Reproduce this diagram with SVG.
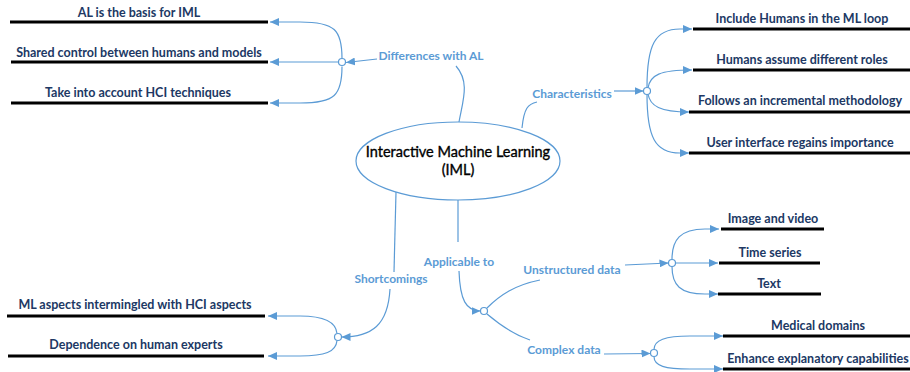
<svg xmlns="http://www.w3.org/2000/svg" width="910" height="372" viewBox="0 0 910 372">
<defs>
<marker id="ah" markerUnits="userSpaceOnUse" markerWidth="10" markerHeight="8" refX="9" refY="4" orient="auto">
<path d="M0,0 L9,4 L0,8 z" fill="#5b9bd5"/>
</marker>
<style>
.c{fill:none;stroke:#5b9bd5;stroke-width:1.2}
.a{marker-end:url(#ah)}
.hub{fill:#fff;stroke:#5b9bd5;stroke-width:1.2}
.bar{stroke:#000;stroke-width:3}
.t{font-family:Lato,"Liberation Sans",sans-serif;font-weight:bold;font-size:12.5px;fill:#203864;text-anchor:middle}
.l{font-family:Lato,"Liberation Sans",sans-serif;font-weight:bold;font-size:12px;fill:#5b9bd5;text-anchor:middle}
.m{font-family:Lato,"Liberation Sans",sans-serif;font-size:14.5px;fill:#000;stroke:#000;stroke-width:0.35;text-anchor:middle}
</style>
</defs>
<rect width="910" height="372" fill="#fff"/>
<g id="connectors">
<path class="c" d="M456,66 C470,82 463,100 459,122"/>
<path class="c a" d="M377,59 L346,62.5"/>
<path class="c a" d="M342,58.5 C342,30 335,22 300,22 L270,22"/>
<path class="c a" d="M338.5,62 L270,62"/>
<path class="c a" d="M342,66.5 C342,95 335,103 300,103 L270,103"/>
<path class="c" d="M522,128 C524,108 528,104 537,102"/>
<path class="c a" d="M614,91 L643.5,91"/>
<path class="c a" d="M647,87.5 C647,45 655,29 680,29 L692,29"/>
<path class="c a" d="M648,88 C650,75 660,70 692,70"/>
<path class="c a" d="M648,94 C650,106 660,112 689,112"/>
<path class="c a" d="M647,94.5 C647,137 655,153 680,153 L689,153"/>
<path class="c" d="M396,192 L394,272"/>
<path class="c a" d="M390,289 C388,325 372,337 341.5,337"/>
<path class="c a" d="M337,333.5 C336,322 325,316 300,316 L268,316"/>
<path class="c a" d="M337,340.5 C336,352 325,356 300,356 L268,356"/>
<path class="c" d="M458,200 L458,242"/>
<path class="c a" d="M459,271 C460,300 466,311 480.5,311"/>
<path class="c" d="M487,308 C500,295 515,285 540,280"/>
<path class="c" d="M487,314 C500,325 515,335 530,340"/>
<path class="c a" d="M625,265 L668.5,263"/>
<path class="c a" d="M672,259.5 C672,240 680,229 705,229 L719,229"/>
<path class="c a" d="M675.5,263 L718,263"/>
<path class="c a" d="M672,266.5 C672,285 680,294 705,294 L718,294"/>
<path class="c a" d="M604,354 L650.5,353.5"/>
<path class="c a" d="M654,349.5 C654,340 665,336 690,336 L723,336"/>
<path class="c a" d="M654,356.5 C654,366 665,369 690,369 L723,369"/>
</g>
<g id="center">
<ellipse cx="458" cy="161" rx="102" ry="39" fill="#fff" stroke="#5b9bd5" stroke-width="1.2"/>
<text class="m" x="458" y="157">Interactive Machine Learning</text>
<text class="m" x="458" y="175">(IML)</text>
</g>
<g id="differences">
<text class="l" x="431" y="60">Differences with AL</text>
<circle class="hub" cx="342" cy="62" r="3.5"/>
</g>
<g id="al-basis"><line class="bar" x1="10" y1="22" x2="268" y2="22"/><text class="t" x="139" y="17">AL is the basis for IML</text></g>
<g id="shared-control"><line class="bar" x1="11" y1="62" x2="268" y2="62"/><text class="t" x="139" y="57">Shared control between humans and models</text></g>
<g id="hci-techniques"><line class="bar" x1="11" y1="103" x2="268" y2="103"/><text class="t" x="138" y="97">Take into account HCI techniques</text></g>
<g id="characteristics">
<text class="l" x="572" y="98">Characteristics</text>
<circle class="hub" cx="647" cy="91" r="3.5"/>
</g>
<g id="include-humans"><line class="bar" x1="693" y1="29" x2="910" y2="29"/><text class="t" x="802" y="23">Include Humans in the ML loop</text></g>
<g id="roles"><line class="bar" x1="693" y1="70" x2="910" y2="70"/><text class="t" x="802" y="64">Humans assume different roles</text></g>
<g id="incremental"><line class="bar" x1="689" y1="112" x2="910" y2="112"/><text class="t" x="800" y="105">Follows an incremental methodology</text></g>
<g id="ui"><line class="bar" x1="689" y1="153" x2="910" y2="153"/><text class="t" x="800" y="147">User interface regains importance</text></g>
<g id="shortcomings">
<text class="l" x="391" y="283">Shortcomings</text>
<circle class="hub" cx="338" cy="337" r="3.5"/>
</g>
<g id="ml-hci"><line class="bar" x1="7" y1="316" x2="265" y2="316"/><text class="t" x="135" y="309">ML aspects intermingled with HCI aspects</text></g>
<g id="experts"><line class="bar" x1="8" y1="356" x2="264" y2="356"/><text class="t" x="136" y="349">Dependence on human experts</text></g>
<g id="applicable">
<text class="l" x="459" y="266">Applicable to</text>
<circle class="hub" cx="484" cy="311" r="3.5"/>
</g>
<g id="unstructured">
<text class="l" x="572" y="274">Unstructured data</text>
<circle class="hub" cx="672" cy="263" r="3.5"/>
</g>
<g id="image-video"><line class="bar" x1="721" y1="229" x2="824" y2="229"/><text class="t" x="773" y="223">Image and video</text></g>
<g id="time-series"><line class="bar" x1="719" y1="263" x2="820" y2="263"/><text class="t" x="770" y="257">Time series</text></g>
<g id="text-node"><line class="bar" x1="718" y1="294" x2="821" y2="294"/><text class="t" x="769" y="288">Text</text></g>
<g id="complex">
<text class="l" x="564" y="354">Complex data</text>
<circle class="hub" cx="654" cy="353" r="3.5"/>
</g>
<g id="medical"><line class="bar" x1="723" y1="336" x2="910" y2="336"/><text class="t" x="818" y="330">Medical domains</text></g>
<g id="explanatory"><line class="bar" x1="723" y1="369" x2="910" y2="369"/><text class="t" x="818" y="363">Enhance explanatory capabilities</text></g>
</svg>
